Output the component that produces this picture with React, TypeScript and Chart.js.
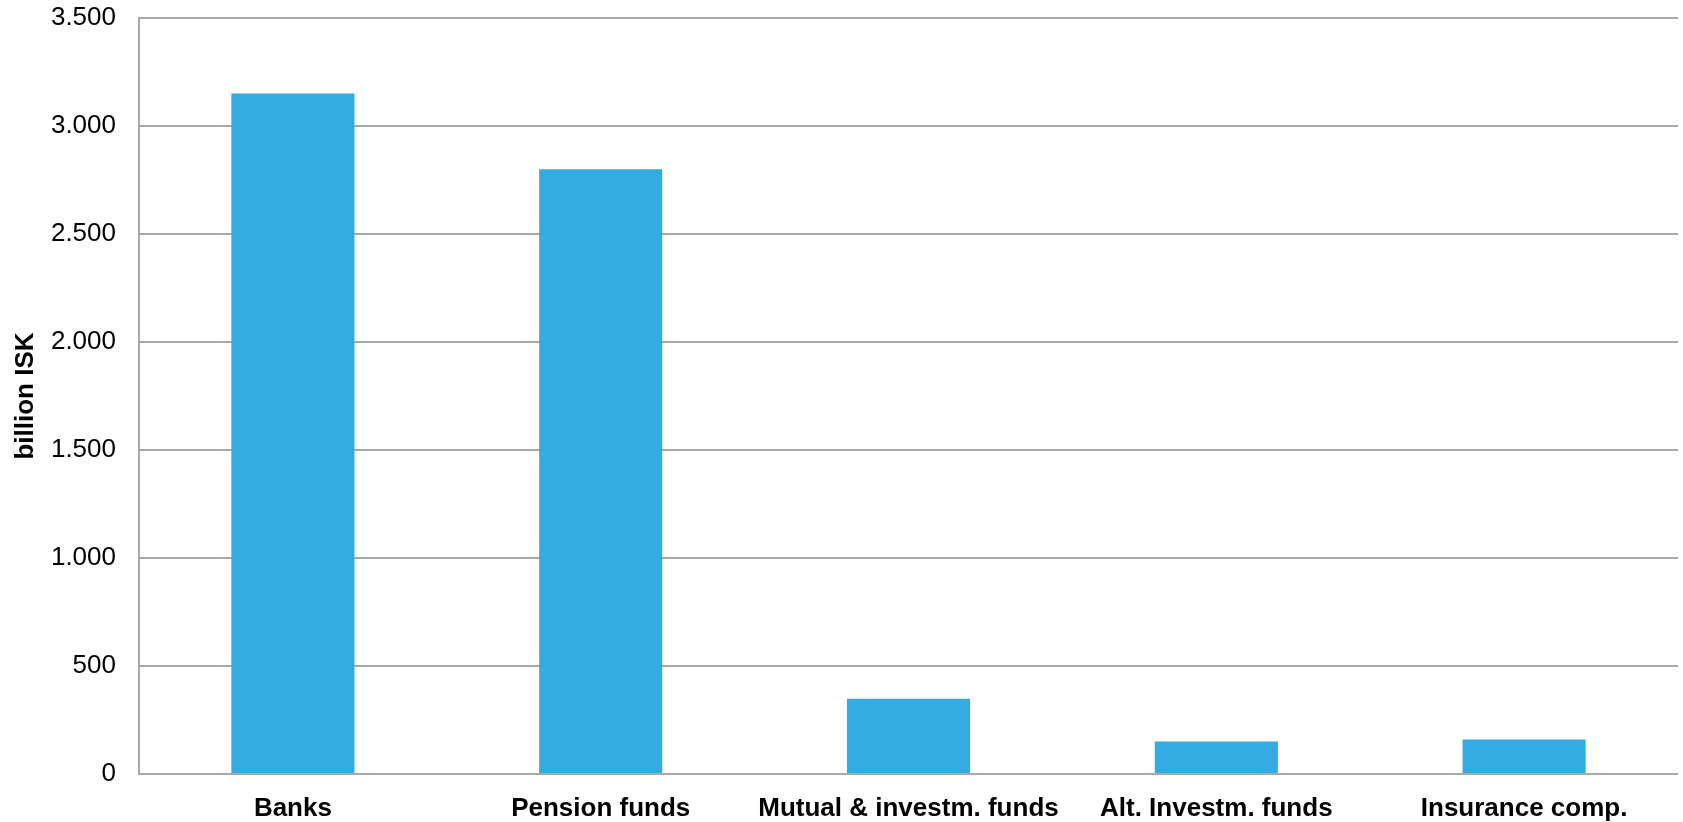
import React, { useEffect, useRef } from "react";
import { Chart, registerables } from "chart.js";

Chart.register(...registerables);

const categories = [
  "Banks",
  "Pension funds",
  "Mutual & investm. funds",
  "Alt. Investm. funds",
  "Insurance comp.",
];
const values = [3150, 2800, 348, 150, 160];
const yTicks = [0, 500, 1000, 1500, 2000, 2500, 3000, 3500];
const yTitle = "billion ISK";

const FONT = "'Liberation Sans', Arial, Helvetica, sans-serif";

function fmt(v: number): string {
  return String(Math.round(v)).replace(/\B(?=(\d{3})+(?!\d))/g, ".");
}

export default function App() {
  const ref = useRef<HTMLCanvasElement | null>(null);

  useEffect(() => {
    if (!ref.current) return;
    const chart = new Chart(ref.current, {
      type: "bar",
      data: {
        labels: categories,
        datasets: [
          {
            data: values,
            backgroundColor: "#34abe1",
            borderWidth: 0,
            categoryPercentage: 1,
            barPercentage: 0.4,
          },
        ],
      },
      options: {
        animation: false,
        responsive: false,
        maintainAspectRatio: false,
        layout: { padding: { top: 0, right: 5, left: 0, bottom: 0 } },
        plugins: {
          legend: { display: false },
          tooltip: { enabled: false },
        },
        scales: {
          x: {
            grid: { display: false, drawTicks: false },
            border: { display: false },
            ticks: {
              color: "#000",
              font: { family: FONT, size: 26, weight: "bold" },
              padding: 19,
              maxRotation: 0,
              minRotation: 0,
              autoSkip: false,
            },
            afterFit: (s: any) => {
              s.height = 48;
            },
          },
          y: {
            min: 0,
            max: 3500,
            afterBuildTicks: (s: any) => {
              s.ticks = yTicks.map((v) => ({ value: v }));
            },
            grid: {
              color: "#a8a8a8",
              lineWidth: 2,
              drawTicks: false,
            },
            border: { display: true, color: "#a8a8a8", width: 2 },
            ticks: {
              color: "#000",
              font: { family: FONT, size: 26 },
              padding: 23,
              callback: (v: any) => fmt(Number(v)),
            },
            title: {
              display: true,
              text: yTitle,
              color: "#000",
              font: { family: FONT, size: 26, weight: "bold" },
              padding: { top: 10, bottom: 0 },
            },
            afterFit: (s: any) => {
              s.width = 139;
              s.paddingTop = 18;
            },
          },
        },
      },
    });
    return () => chart.destroy();
  }, []);

  return (
    <div style={{ position: "absolute", left: 0, top: 0, width: 1683, height: 822, background: "#fff" }}>
      <canvas ref={ref} width={1683} height={822} style={{ display: "block" }} />
    </div>
  );
}
